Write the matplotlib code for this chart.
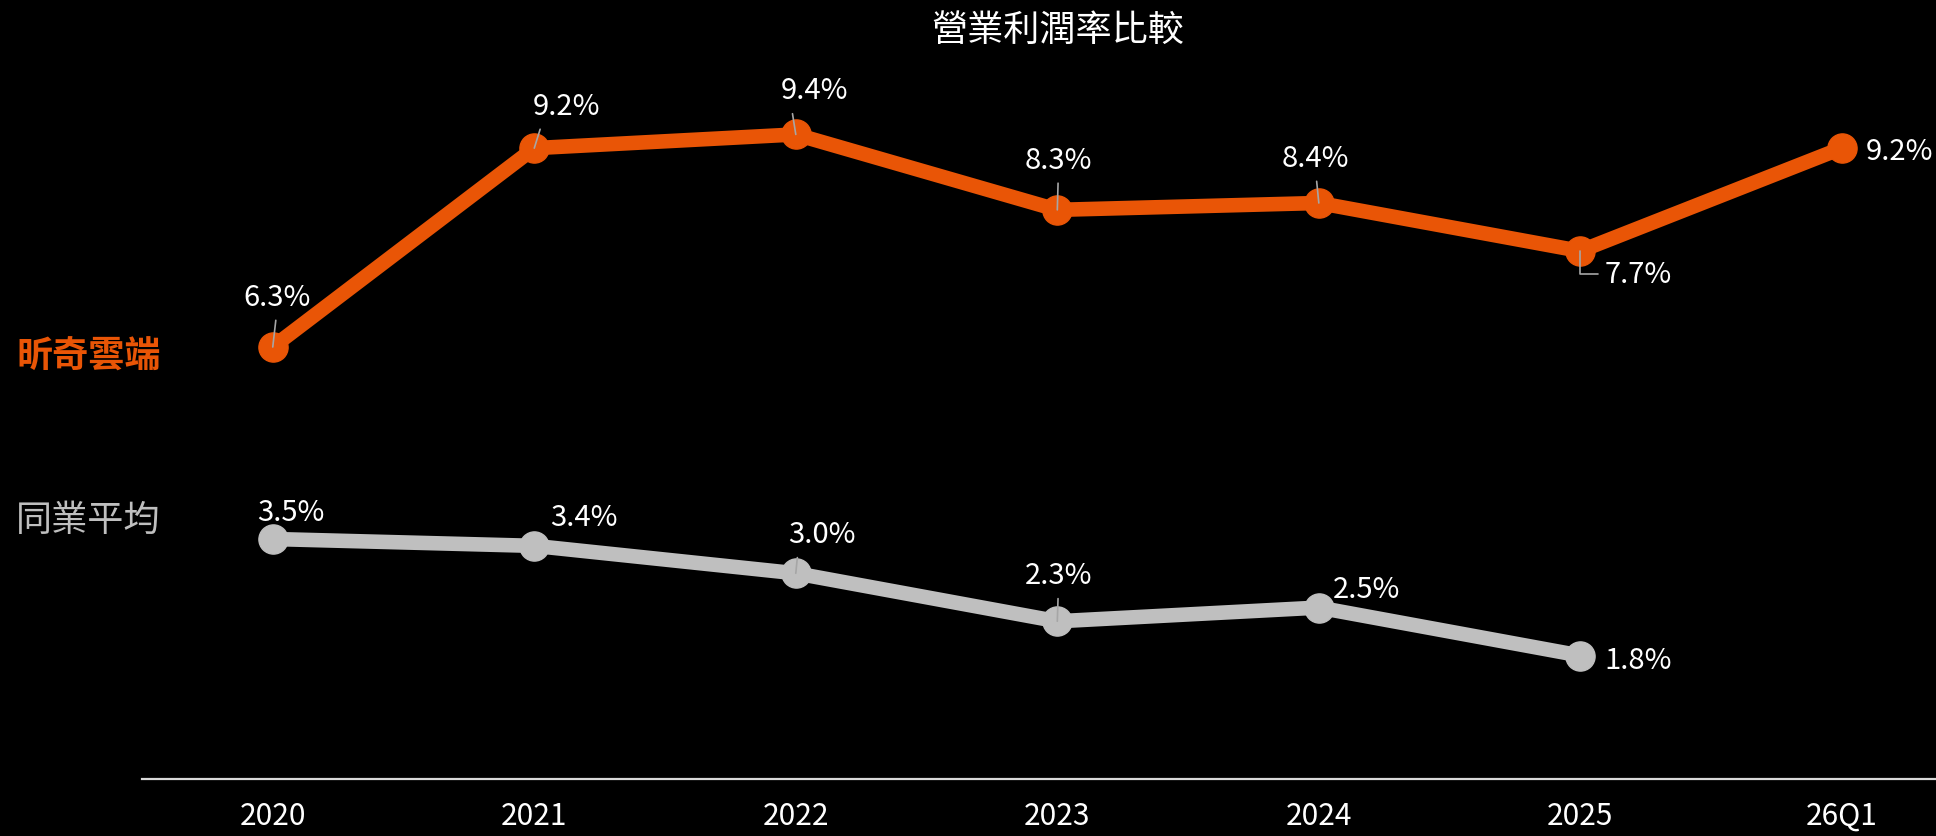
import matplotlib
matplotlib.use("Agg")
import matplotlib.pyplot as plt

# ---- data ----
categories = ["2020", "2021", "2022", "2023", "2024", "2025", "26Q1"]
company_name = "昕奇雲端"
peer_name = "同業平均"
company_values = [6.3, 9.2, 9.4, 8.3, 8.4, 7.7, 9.2]
peer_values = [3.5, 3.4, 3.0, 2.3, 2.5, 1.8]
title = "營業利潤率比較"

# ---- style / layout ----
ORANGE = "#E95506"
GRAY = "#BFBFBF"
LEADER = "#A6A6A6"
FONT = ["Noto Sans CJK TC", "DejaVu Sans"]
plt.rcParams["font.family"] = FONT

# label offsets in pixels (dx, dy), leader style
company_label_style = [
    ((4, 50), "up"),
    ((32, 42), "upleft"),
    ((19, 44), "upleft"),
    ((1, 50), "up"),
    ((-3, 45), "up"),
    ((58, -23), "elbow"),
    ((58, -3), None),
]
peer_label_style = [
    ((18, 27), None),
    ((50, 29), None),
    ((26, 39), "upleft"),
    ((1, 46), "up"),
    ((48, 19), None),
    ((58, -4), None),
]

W, H = 1936, 837
fig = plt.figure(figsize=(W / 100, H / 100), dpi=100, facecolor="black")
ax = fig.add_axes([142 / W, 57 / H, 1 - 142 / W, 720 / H])
ax.set_facecolor("black")

x_c = list(range(len(company_values)))
x_p = list(range(len(peer_values)))

ax.plot(x_c, company_values, color=ORANGE, lw=10.5, marker="o", ms=21,
        mfc=ORANGE, mec=ORANGE, zorder=3, solid_joinstyle="round")
ax.plot(x_p, peer_values, color=GRAY, lw=10.5, marker="o", ms=21,
        mfc=GRAY, mec=GRAY, zorder=3, solid_joinstyle="round")

ax.set_xlim(-0.5, 6.36)
ax.set_ylim(0, 10.5)
ax.set_xticks(range(len(categories)))
ax.set_xticklabels(categories, color="white", fontsize=21.5)
ax.tick_params(axis="x", length=0, pad=15)
ax.set_yticks([])
for s in ["left", "right", "top"]:
    ax.spines[s].set_visible(False)
ax.spines["bottom"].set_color("#D9D9D9")
ax.spines["bottom"].set_linewidth(1.6)


def add_labels(xs, vals, styles):
    for x, v, ((dx, dy), lead) in zip(xs, vals, styles):
        kw = {}
        if lead == "up":
            kw["arrowprops"] = dict(arrowstyle="-", color=LEADER, lw=1.2,
                                    relpos=(0.5, 0.0), shrinkA=4, shrinkB=0)
        elif lead == "upleft":
            kw["arrowprops"] = dict(arrowstyle="-", color=LEADER, lw=1.2,
                                    relpos=(0.15, 0.0), shrinkA=4, shrinkB=0)
        elif lead == "elbow":
            kw["arrowprops"] = dict(arrowstyle="-", color=LEADER, lw=1.2,
                                    relpos=(0.0, 0.5), shrinkA=3, shrinkB=0,
                                    connectionstyle="angle,angleA=0,angleB=90,rad=0")
        ax.annotate(f"{v:.1f}%", xy=(x, v), xytext=(dx, dy),
                    textcoords="offset pixels", ha="center", va="center",
                    color="white", fontsize=21, zorder=5, **kw)


add_labels(x_c, company_values, company_label_style)
add_labels(x_p, peer_values, peer_label_style)

fig.text(1058 / W, 1 - 31 / H, title, color="white", fontsize=26,
         ha="center", va="center")
fig.text(16 / W, 1 - 357 / H, company_name, color=ORANGE, fontsize=26,
         fontweight="bold", ha="left", va="center")
fig.text(16 / W, 1 - 521 / H, peer_name, color=GRAY, fontsize=26,
         ha="left", va="center")

fig.savefig("out.png", dpi=100, facecolor="black")
